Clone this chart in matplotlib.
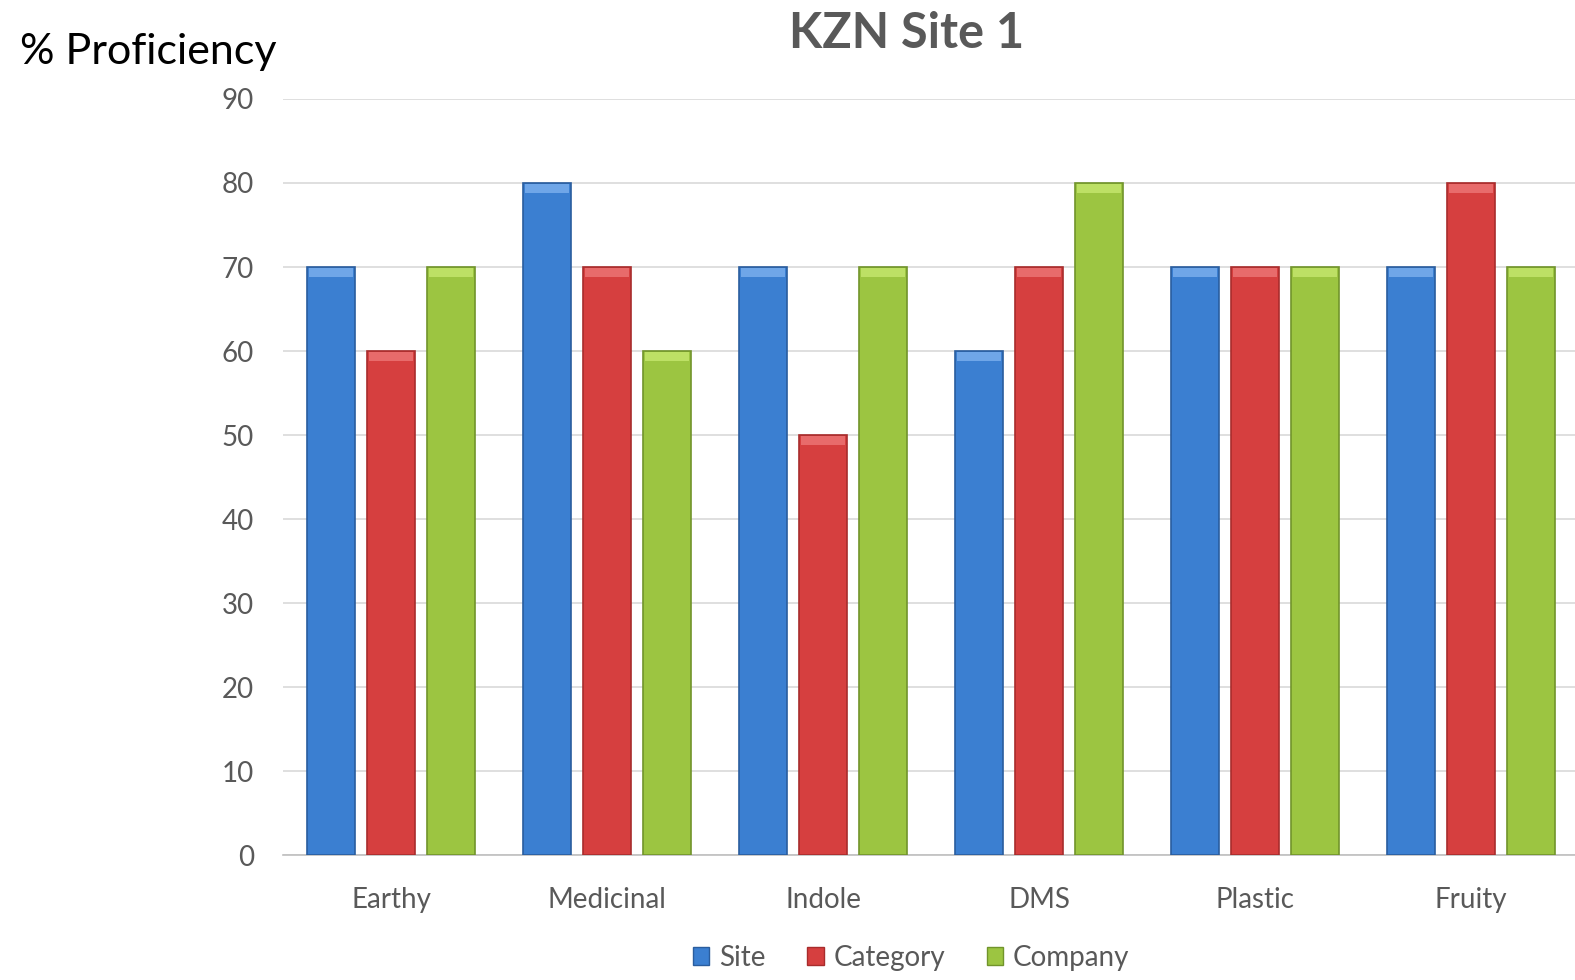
import matplotlib.pyplot as plt
from matplotlib.patches import Patch
import numpy as np

categories = ['Earthy', 'Medicinal', 'Indole', 'DMS', 'Plastic', 'Fruity']
series = ['Site', 'Category', 'Company']
site = [70, 80, 70, 60, 70, 70]
category = [60, 70, 50, 70, 70, 80]
company = [70, 60, 70, 80, 70, 70]

colors = ['#3b7fd1', '#d63f3f', '#9cc541']
edges = ['#2a5d9e', '#a82c2c', '#71942b']
tops = ['#6fa6e8', '#e86b6b', '#bde065']

plt.rcParams['font.family'] = ['Lato', 'DejaVu Sans']

fig = plt.figure(figsize=(15.75, 9.8), dpi=100)
ax = fig.add_axes([283 / 1575, 1 - 855 / 980, 1296 / 1575, 756 / 980])

x = np.arange(len(categories))
width = 0.222
step = 0.278
for i, vals in enumerate([site, category, company]):
    pos = x + (i - 1) * step
    ax.bar(pos, vals, width, color=colors[i], edgecolor=edges[i],
           linewidth=1.2, zorder=3, label=series[i])
    # bevel highlight at the top of each bar
    ax.bar(pos, [1.1] * len(vals), width * 0.9, bottom=np.array(vals) - 1.2,
           color=tops[i], linewidth=0, zorder=4)

ax.set_xlim(-0.5, len(categories) - 0.5)
ax.set_ylim(0, 90)
ax.set_yticks(range(0, 91, 10))
ax.set_xticks(x)
ax.set_xticklabels(categories)
ax.tick_params(axis='both', length=0, labelsize=20, labelcolor='#595959')
ax.tick_params(axis='y', pad=21)
ax.tick_params(axis='x', pad=23)
ax.grid(axis='y', color='#d9d9d9', linewidth=1.2, zorder=0)
for s in ['top', 'right', 'left']:
    ax.spines[s].set_visible(False)
ax.spines['bottom'].set_color('#bfbfbf')
ax.spines['bottom'].set_linewidth(1.2)

fig.text(907 / 1575, 1 - 33 / 980, 'KZN Site 1', ha='center', va='center',
         fontsize=35, fontweight='bold', color='#595959')
fig.text(20 / 1575, 1 - 52 / 980, '% Proficiency', ha='left', va='center',
         fontsize=31, color='black')

handles = [Patch(facecolor=colors[i], edgecolor=edges[i]) for i in range(3)]
fig.legend(handles, series, loc='center', bbox_to_anchor=(911 / 1575, 1 - 958 / 980),
           ncol=3, frameon=False, fontsize=20, handlelength=0.6, handleheight=0.6,
           handletextpad=0.35, columnspacing=1.5, labelcolor='#595959')

fig.savefig('out.png', dpi=100)
